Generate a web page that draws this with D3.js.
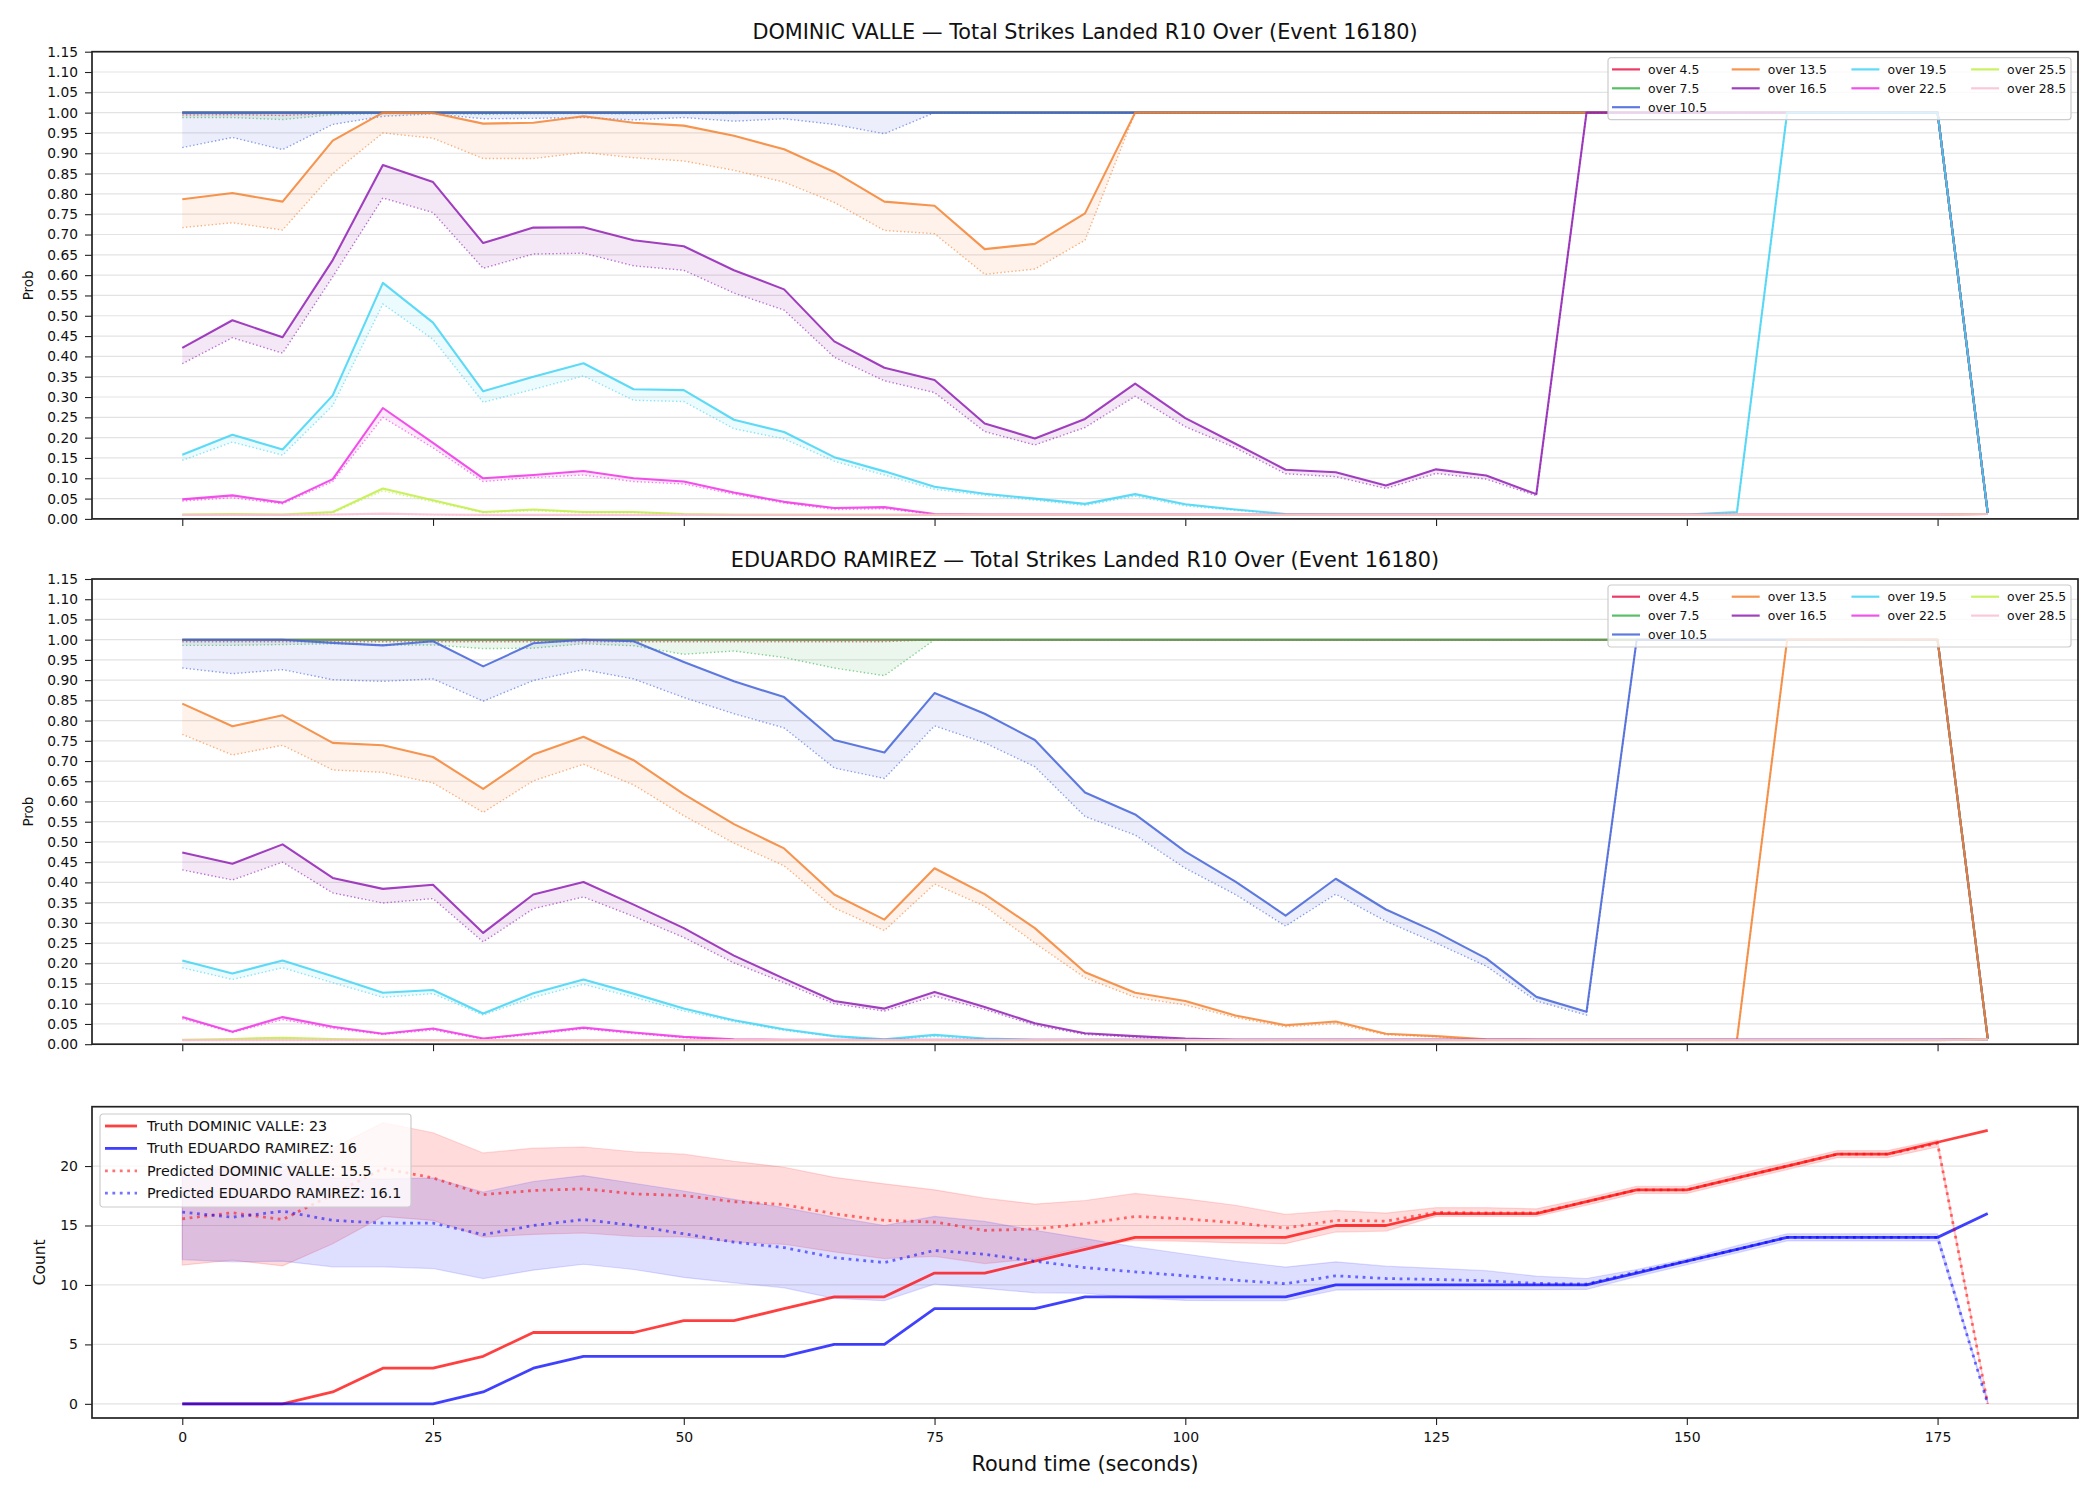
<!DOCTYPE html>
<html>
<head>
<meta charset="utf-8">
<script src="https://cdn.jsdelivr.net/npm/d3@7"></script>
<style>
  body { margin: 0; background: #fff; }
  svg { font-family: "DejaVu Sans", sans-serif; }
</style>
</head>
<body>
<div id="chart"></div>
<script>
// round time in seconds
const times = [0,5,10,15,20,25,30,35,40,45,50,55,60,65,70,75,80,85,90,95,100,105,110,115,120,125,130,135,140,145,150,155,160,165,170,175,180]

const overLabels = ['over 4.5','over 7.5','over 10.5','over 13.5','over 16.5','over 19.5','over 22.5','over 25.5','over 28.5']
const overColors = ['#e6194b','#3cb44b','#4363d8','#f58231','#911eb4','#42d4f4','#f032e6','#bfef45','#fabed4']

const probTicks = [0,0.05,0.1,0.15,0.2,0.25,0.3,0.35,0.4,0.45,0.5,0.55,0.6,0.65,0.7,0.75,0.8,0.85,0.9,0.95,1,1.05,1.1,1.15]
const countTicks = [0,5,10,15,20]
const timeTicks = [0,25,50,75,100,125,150,175]

// ---- DOMINIC VALLE (solid line + dotted line per threshold)
const valleO45 = [1,1,1,1,1,1,1,1,1,1, 1,1,1,1,1,1,1,1,1,1, 1,1,1,1,1,1,1,1,1,1, 1,1,1,1,1,1, 0.014]
const valleO45Dot = [0.994,0.995,0.993,0.998,0.999,0.999,0.999,0.999,0.999,0.999, 0.999,1,1,1,1,1,1,1,1,1, 1,1,1,1,1,1,1,1,1,1, 1,1,1,1,1,1, 0.014]
const valleO75 = [1,1,1,1,1,1,1,1,1,1, 1,1,1,1,1,1,1,1,1,1, 1,1,1,1,1,1,1,1,1,1, 1,1,1,1,1,1, 0.014]
const valleO75Dot = [0.988,0.988,0.983,0.995,0.998,0.998,0.996,0.997,0.998,0.997, 0.998,0.998,0.999,0.999,0.999,1,1,1,1,1, 1,1,1,1,1,1,1,1,1,1, 1,1,1,1,1,1, 0.014]
const valleO105 = [1,1,1,1,1,1,1,1,1,1, 1,1,1,1,1,1,1,1,1,1, 1,1,1,1,1,1,1,1,1,1, 1,1,1,1,1,1, 0.014]
const valleO105Dot = [0.914,0.939,0.909,0.971,0.991,0.997,0.985,0.986,0.988,0.982, 0.988,0.979,0.985,0.971,0.948,1,1,1,1,1, 1,1,1,1,1,1,1,1,1,1, 1,1,1,1,1,1, 0.014]
const valleO135 = [0.787,0.802,0.781,0.931,1.0,0.999,0.973,0.975,0.991,0.975, 0.968,0.943,0.910,0.854,0.781,0.771,0.664,0.677,0.752,1, 1,1,1,1,1,1,1,1,1,1, 1,1,1,1,1,1, 0.014]
const valleO135Dot = [0.717,0.729,0.711,0.850,0.950,0.937,0.887,0.887,0.902,0.889, 0.881,0.858,0.829,0.779,0.710,0.702,0.602,0.615,0.686,1, 1,1,1,1,1,1,1,1,1,1, 1,1,1,1,1,1, 0.014]
const valleO165 = [0.421,0.489,0.447,0.637,0.871,0.829,0.679,0.717,0.718,0.686, 0.671,0.612,0.565,0.437,0.372,0.342,0.235,0.198,0.246,0.333, 0.248,0.185,0.121,0.115,0.082,0.122,0.107,0.061,1,1, 1,1,1,1,1,1, 0.014]
const valleO165Dot = [0.382,0.446,0.408,0.596,0.790,0.754,0.617,0.652,0.654,0.623, 0.612,0.556,0.514,0.398,0.340,0.311,0.215,0.182,0.225,0.302, 0.227,0.175,0.111,0.104,0.075,0.112,0.098,0.057,1,1, 1,1,1,1,1,1, 0.014]
const valleO195 = [0.158,0.207,0.171,0.304,0.581,0.483,0.314,0.350,0.383,0.319, 0.317,0.244,0.214,0.152,0.117,0.079,0.062,0.050,0.037,0.061, 0.036,0.023,0.012,0.011,0.011,0.011,0.011,0.011,0.011,0.011, 0.011,0.017,1,1,1,1, 0.014]
const valleO195Dot = [0.144,0.189,0.157,0.279,0.529,0.442,0.287,0.319,0.352,0.292, 0.289,0.222,0.197,0.142,0.108,0.073,0.058,0.046,0.033,0.056, 0.032,0.021,0.011,0.010,0.010,0.010,0.010,0.010,0.010,0.010, 0.010,0.015,1,1,1,1, 0.014]
const valleO225 = [0.048,0.058,0.040,0.098,0.273,0.187,0.100,0.108,0.118,0.100, 0.092,0.065,0.042,0.027,0.029,0.012,0.011,0.011,0.011,0.011, 0.011,0.011,0.011,0.011,0.011,0.011,0.011,0.011,0.011,0.011, 0.011,0.011,0.011,0.011,0.011,0.011, 0.012]
const valleO225Dot = [0.044,0.052,0.037,0.092,0.250,0.175,0.092,0.102,0.108,0.092, 0.086,0.061,0.039,0.023,0.025,0.011,0.010,0.010,0.010,0.010, 0.010,0.010,0.010,0.010,0.010,0.010,0.010,0.010,0.010,0.010, 0.010,0.010,0.010,0.010,0.010,0.010, 0.012]
const valleO255 = [0.011,0.012,0.011,0.017,0.075,0.046,0.017,0.023,0.017,0.017, 0.012,0.010,0.010,0.010,0.010,0.010,0.010,0.010,0.010,0.010, 0.010,0.010,0.010,0.010,0.010,0.010,0.010,0.010,0.010,0.010, 0.010,0.010,0.010,0.010,0.010,0.010, 0.012]
const valleO255Dot = [0.010,0.011,0.010,0.015,0.069,0.042,0.015,0.020,0.015,0.015, 0.011,0.010,0.010,0.010,0.010,0.010,0.010,0.010,0.010,0.010, 0.010,0.010,0.010,0.010,0.010,0.010,0.010,0.010,0.010,0.010, 0.010,0.010,0.010,0.010,0.010,0.010, 0.012]
const valleO285 = [0.010,0.010,0.010,0.011,0.013,0.011,0.010,0.010,0.010,0.010, 0.010,0.010,0.010,0.010,0.010,0.010,0.010,0.010,0.010,0.010, 0.010,0.010,0.010,0.010,0.010,0.010,0.010,0.010,0.010,0.010, 0.010,0.010,0.010,0.010,0.010,0.010, 0.012]
const valleO285Dot = [0.009,0.009,0.009,0.010,0.012,0.010,0.009,0.009,0.009,0.009, 0.009,0.009,0.009,0.009,0.009,0.009,0.009,0.009,0.009,0.009, 0.009,0.009,0.009,0.009,0.009,0.009,0.009,0.009,0.009,0.009, 0.009,0.009,0.009,0.009,0.009,0.009, 0.011]

// ---- EDUARDO RAMIREZ
const ramirezO45 = [1,1,1,1,1,1,1,1,1,1, 1,1,1,1,1,1,1,1,1,1, 1,1,1,1,1,1,1,1,1,1, 1,1,1,1,1,1, 0.014]
const ramirezO45Dot = [0.995,0.995,0.995,0.995,0.995,0.995,0.995,0.995,0.995,0.995, 0.995,0.995,0.995,0.995,0.995,1,1,1,1,1, 1,1,1,1,1,1,1,1,1,1, 1,1,1,1,1,1, 0.014]
const ramirezO75 = [1,1,1,1,1,1,1,1,1,1, 1,1,1,1,1,1,1,1,1,1, 1,1,1,1,1,1,1,1,1,1, 1,1,1,1,1,1, 0.014]
const ramirezO75Dot = [0.986,0.986,0.988,0.990,0.987,0.987,0.978,0.979,0.990,0.985, 0.964,0.972,0.956,0.930,0.911,1,1,1,1,1, 1,1,1,1,1,1,1,1,1,1, 1,1,1,1,1,1, 0.014]
const ramirezO105 = [1,1,1,0.992,0.986,0.996,0.934,0.991,1,0.996, 0.945,0.897,0.858,0.752,0.721,0.868,0.817,0.752,0.622,0.568, 0.476,0.402,0.318,0.409,0.333,0.277,0.212,0.117,0.080,1, 1,1,1,1,1,1, 0.014]
const ramirezO105Dot = [0.930,0.916,0.926,0.901,0.897,0.903,0.848,0.899,0.926,0.903, 0.857,0.817,0.782,0.683,0.657,0.787,0.745,0.686,0.563,0.517, 0.435,0.370,0.292,0.371,0.304,0.250,0.193,0.107,0.072,1, 1,1,1,1,1,1, 0.014]
const ramirezO135 = [0.842,0.786,0.813,0.745,0.739,0.710,0.631,0.716,0.760,0.702, 0.618,0.544,0.484,0.370,0.308,0.435,0.371,0.287,0.178,0.127, 0.107,0.071,0.047,0.056,0.026,0.020,0.012,0.011,0.011,0.011, 0.011,0.011,1,1,1,1, 0.014]
const ramirezO135Dot = [0.766,0.715,0.739,0.678,0.672,0.646,0.573,0.651,0.692,0.641, 0.565,0.497,0.441,0.337,0.281,0.396,0.341,0.250,0.164,0.116, 0.097,0.066,0.043,0.051,0.023,0.018,0.011,0.010,0.010,0.010, 0.010,0.010,1,1,1,1, 0.014]
const ramirezO165 = [0.474,0.446,0.494,0.411,0.384,0.394,0.275,0.370,0.401,0.345, 0.287,0.219,0.162,0.107,0.088,0.129,0.092,0.052,0.027,0.020, 0.014,0.011,0.011,0.011,0.011,0.011,0.011,0.011,0.011,0.011, 0.011,0.011,0.011,0.011,0.011,0.011, 0.012]
const ramirezO165Dot = [0.431,0.406,0.450,0.374,0.349,0.360,0.253,0.335,0.364,0.316, 0.264,0.201,0.152,0.100,0.082,0.119,0.086,0.047,0.024,0.017, 0.012,0.010,0.010,0.010,0.010,0.010,0.010,0.010,0.010,0.010, 0.010,0.010,0.010,0.010,0.010,0.010, 0.012]
const ramirezO195 = [0.207,0.175,0.207,0.168,0.127,0.134,0.076,0.126,0.160,0.125, 0.088,0.059,0.037,0.020,0.012,0.023,0.014,0.011,0.011,0.011, 0.011,0.011,0.011,0.011,0.011,0.011,0.011,0.011,0.011,0.011, 0.011,0.011,0.011,0.011,0.011,0.011, 0.012]
const ramirezO195Dot = [0.189,0.160,0.189,0.152,0.116,0.125,0.072,0.116,0.148,0.116, 0.082,0.056,0.034,0.019,0.011,0.019,0.012,0.010,0.010,0.010, 0.010,0.010,0.010,0.010,0.010,0.010,0.010,0.010,0.010,0.010, 0.010,0.010,0.010,0.010,0.010,0.010, 0.012]
const ramirezO225 = [0.067,0.031,0.067,0.043,0.026,0.039,0.014,0.027,0.041,0.029, 0.018,0.012,0.011,0.011,0.011,0.011,0.011,0.011,0.011,0.011, 0.011,0.011,0.011,0.011,0.011,0.011,0.011,0.011,0.011,0.011, 0.011,0.011,0.011,0.011,0.011,0.011, 0.012]
const ramirezO225Dot = [0.063,0.029,0.061,0.039,0.024,0.035,0.012,0.024,0.038,0.026, 0.016,0.011,0.010,0.010,0.010,0.010,0.010,0.010,0.010,0.010, 0.010,0.010,0.010,0.010,0.010,0.010,0.010,0.010,0.010,0.010, 0.010,0.010,0.010,0.010,0.010,0.010, 0.012]
const ramirezO255 = [0.011,0.013,0.016,0.013,0.011,0.010,0.010,0.010,0.010,0.010, 0.010,0.010,0.010,0.010,0.010,0.010,0.010,0.010,0.010,0.010, 0.010,0.010,0.010,0.010,0.010,0.010,0.010,0.010,0.010,0.010, 0.010,0.010,0.010,0.010,0.010,0.010, 0.012]
const ramirezO255Dot = [0.010,0.012,0.015,0.012,0.010,0.010,0.010,0.010,0.010,0.010, 0.010,0.010,0.010,0.010,0.010,0.010,0.010,0.010,0.010,0.010, 0.010,0.010,0.010,0.010,0.010,0.010,0.010,0.010,0.010,0.010, 0.010,0.010,0.010,0.010,0.010,0.010, 0.012]
const ramirezO285 = [0.010,0.010,0.010,0.010,0.010,0.010,0.010,0.010,0.010,0.010, 0.010,0.010,0.010,0.010,0.010,0.010,0.010,0.010,0.010,0.010, 0.010,0.010,0.010,0.010,0.010,0.010,0.010,0.010,0.010,0.010, 0.010,0.010,0.010,0.010,0.010,0.010, 0.012]
const ramirezO285Dot = [0.009,0.009,0.009,0.009,0.009,0.009,0.009,0.009,0.009,0.009, 0.009,0.009,0.009,0.009,0.009,0.009,0.009,0.009,0.009,0.009, 0.009,0.009,0.009,0.009,0.009,0.009,0.009,0.009,0.009,0.009, 0.009,0.009,0.009,0.009,0.009,0.009, 0.011]

// ---- counts
const truthValle   = [0,0,0,1,3,3,4,6,6,6, 7,7,8,9,9,11,11,12,13,14, 14,14,14,15,15,16,16,16,17,18, 18,19,20,21,21,22, 23]
const truthRamirez = [0,0,0,0,0,0,1,3,4,4, 4,4,4,5,5,8,8,8,9,9, 9,9,9,10,10,10,10,10,10,11, 12,13,14,14,14,14, 16]
const predValle    = [15.56,16.07,15.5,17.6,19.8,19.0,17.6,17.94,18.08,17.66, 17.52,17.0,16.76,15.98,15.43,15.29,14.59,14.7,15.15,15.76, 15.56,15.23,14.78,15.43,15.37,16.1,16.05,16.05,17.0,18.0, 18.0,19.0,20.0,21.0,21.0,21.9, 0]
const predRamirez  = [16.12,15.7,16.2,15.43,15.2,15.2,14.23,15.0,15.5,15.0, 14.3,13.6,13.14,12.3,11.88,12.9,12.58,12.0,11.46,11.1, 10.77,10.4,10.1,10.77,10.54,10.46,10.35,10.13,10.07,11.1, 12.0,13.0,14.0,14.0,14.0,14.0, 0]
const valleLow     = [11.66,12.08,11.6,13.47,15.76,15.43,14.03,14.25,14.37,14.09, 14.03,13.61,13.42,12.78,12.22,12.41,11.8,12.2,13.2,13.75, 13.67,13.53,13.47,14.45,14.53,15.76,15.76,15.76,16.7,17.7, 17.7,18.7,19.7,20.7,20.7,21.6, 0]
const valleHigh    = [19.5,20.1,19.6,21.5,23.65,22.8,21.1,21.5,21.6,21.2, 21.0,20.4,19.9,19.05,18.5,18.0,17.3,16.8,17.1,17.7, 17.24,16.7,15.93,16.26,16.04,16.5,16.5,16.4,17.3,18.3, 18.3,19.3,20.3,21.3,21.3,22.2, 0.2]
const ramirezLow   = [12.13,11.94,12.0,11.52,11.52,11.38,10.54,11.24,11.74,11.3, 10.63,10.18,9.76,8.87,8.67,10.07,9.71,9.34,9.3,8.9, 8.7,8.67,8.67,9.57,9.6,9.6,9.6,9.6,9.62,10.7, 11.7,12.7,13.7,13.7,13.7,13.7, 0]
const ramirezHigh  = [19.4,19.9,20.2,19.0,18.9,19.0,17.8,18.7,19.2,18.55, 17.9,17.2,16.5,15.7,15.0,15.76,15.34,14.6,13.9,13.2, 12.6,12.0,11.5,11.94,11.58,11.4,11.2,10.74,10.54,11.3, 12.2,13.3,14.3,14.3,14.3,14.3, 0.2]

const valleSolid = [valleO45,valleO75,valleO105,valleO135,valleO165,valleO195,valleO225,valleO255,valleO285]
const valleDot = [valleO45Dot,valleO75Dot,valleO105Dot,valleO135Dot,valleO165Dot,valleO195Dot,valleO225Dot,valleO255Dot,valleO285Dot]
const ramirezSolid = [ramirezO45,ramirezO75,ramirezO105,ramirezO135,ramirezO165,ramirezO195,ramirezO225,ramirezO255,ramirezO285]
const ramirezDot = [ramirezO45Dot,ramirezO75Dot,ramirezO105Dot,ramirezO135Dot,ramirezO165Dot,ramirezO195Dot,ramirezO225Dot,ramirezO255Dot,ramirezO285Dot]

const width = 2100
const height = 1500
const left = 92, right = 2078

const svg = d3.select('#chart').append('svg')
  .attr('width', width)
  .attr('height', height)
svg.append('rect').attr('width', width).attr('height', height).attr('fill', '#fff')

const x = d3.scaleLinear().domain([-9, 189]).range([left, right])

function styleAxis(g, size) {
  g.select('.domain').remove()
  g.selectAll('.tick line').attr('stroke', '#222').attr('stroke-width', 1.1)
  g.selectAll('.tick text').attr('fill', '#111').attr('font-size', size)
    .attr('font-family', '"DejaVu Sans", sans-serif')
}

function gridLines(y, ticks) {
  svg.append('g').selectAll('line').data(ticks).enter().append('line')
    .attr('x1', left).attr('x2', right)
    .attr('y1', d => y(d)).attr('y2', d => y(d))
    .attr('stroke', '#e3e3e3').attr('stroke-width', 1.2)
}

function frame(top, bottom) {
  svg.append('rect')
    .attr('x', left).attr('y', top)
    .attr('width', right - left).attr('height', bottom - top)
    .attr('fill', 'none').attr('stroke', '#222').attr('stroke-width', 1.7)
}

function probPanel(top, bottom, title, solids, dots) {
  const y = d3.scaleLinear().domain([0, 1.15]).range([bottom, top])
  gridLines(y, probTicks)

  const g = svg.append('g')
  solids.forEach((solid, i) => {
    const dot = dots[i]
    const area = d3.area()
      .x((d, j) => x(times[j]))
      .y0((d, j) => y(solid[j]))
      .y1((d, j) => y(dot[j]))
    const line = d3.line().x((d, j) => x(times[j])).y(d => y(d))

    g.append('path').attr('d', area(times))
      .attr('fill', overColors[i]).attr('fill-opacity', 0.1)
    g.append('path').attr('d', line(solid))
      .attr('fill', 'none').attr('stroke', overColors[i])
      .attr('stroke-opacity', 0.85).attr('stroke-width', 2.1)
      .attr('stroke-linejoin', 'round')
    g.append('path').attr('d', line(dot))
      .attr('fill', 'none').attr('stroke', overColors[i])
      .attr('stroke-opacity', 0.6).attr('stroke-width', 1.4)
      .attr('stroke-dasharray', '1.4,2.3')
  })

  svg.append('g').attr('transform', `translate(${left},0)`)
    .call(d3.axisLeft(y).tickValues(probTicks).tickFormat(d3.format('.2f')).tickSize(7).tickPadding(7))
    .call(g => styleAxis(g, '13.8px'))
  svg.append('g').attr('transform', `translate(0,${bottom})`)
    .call(d3.axisBottom(x).tickValues(timeTicks).tickFormat('').tickSize(7))
    .call(g => styleAxis(g, '14px'))

  frame(top, bottom)

  svg.append('text')
    .attr('x', (left + right) / 2).attr('y', top - 12.5)
    .attr('text-anchor', 'middle').attr('font-size', '20.8px').attr('fill', '#111')
    .text(title)

  svg.append('text')
    .attr('transform', `translate(28,${(top + bottom) / 2}) rotate(-90)`)
    .attr('dy', '0.35em').attr('text-anchor', 'middle')
    .attr('font-size', '13.5px').attr('fill', '#111')
    .text('Prob')

  // legend, 4 columns filled column by column
  const lg = svg.append('g').attr('transform', `translate(1608,${top + 6})`)
  lg.append('rect').attr('width', 463).attr('height', 62).attr('rx', 3)
    .attr('fill', '#fff').attr('fill-opacity', 0.8)
    .attr('stroke', '#cccccc').attr('stroke-width', 1.2)
  const perCol = [3, 2, 2, 2]
  let k = 0
  perCol.forEach((n, c) => {
    for (let r = 0; r < n; r++) {
      const lx = 4 + c * 119.7
      const ly = 11.7 + r * 18.9
      lg.append('line').attr('x1', lx).attr('x2', lx + 28).attr('y1', ly).attr('y2', ly)
        .attr('stroke', overColors[k]).attr('stroke-opacity', 0.85).attr('stroke-width', 2.2)
      lg.append('text').attr('x', lx + 36).attr('y', ly).attr('dy', '0.35em')
        .attr('font-size', '12.4px').attr('fill', '#111').text(overLabels[k])
      k++
    }
  })
}

probPanel(51.7, 518.9, 'DOMINIC VALLE \u2014 Total Strikes Landed R10 Over (Event 16180)', valleSolid, valleDot)
probPanel(579, 1044.2, 'EDUARDO RAMIREZ \u2014 Total Strikes Landed R10 Over (Event 16180)', ramirezSolid, ramirezDot)

// ---- count panel
const cTop = 1106.7, cBottom = 1418
const yc = d3.scaleLinear().domain([-1.19, 24.99]).range([cBottom, cTop])
gridLines(yc, countTicks)

const band = (lo, hi) => d3.area().x((d, j) => x(times[j])).y0((d, j) => yc(lo[j])).y1((d, j) => yc(hi[j]))
const cline = d3.line().x((d, j) => x(times[j])).y(d => yc(d))

svg.append('path').attr('d', band(valleLow, valleHigh)(times))
  .attr('fill', 'red').attr('fill-opacity', 0.14)
  .attr('stroke', 'red').attr('stroke-opacity', 0.14).attr('stroke-width', 1.2)
svg.append('path').attr('d', band(ramirezLow, ramirezHigh)(times))
  .attr('fill', 'blue').attr('fill-opacity', 0.13)
  .attr('stroke', 'blue').attr('stroke-opacity', 0.13).attr('stroke-width', 1.2)

const countSeries = [
  { vals: truthValle, color: 'red', op: 0.75, dash: null, label: 'Truth DOMINIC VALLE: 23' },
  { vals: truthRamirez, color: 'blue', op: 0.75, dash: null, label: 'Truth EDUARDO RAMIREZ: 16' },
  { vals: predValle, color: 'red', op: 0.55, dash: '2.8,4.6', label: 'Predicted DOMINIC VALLE: 15.5' },
  { vals: predRamirez, color: 'blue', op: 0.55, dash: '2.8,4.6', label: 'Predicted EDUARDO RAMIREZ: 16.1' }
]
countSeries.forEach(s => {
  svg.append('path').attr('d', cline(s.vals))
    .attr('fill', 'none').attr('stroke', s.color).attr('stroke-opacity', s.op)
    .attr('stroke-width', 2.8).attr('stroke-linejoin', 'round')
    .attr('stroke-dasharray', s.dash)
})

svg.append('g').attr('transform', `translate(${left},0)`)
  .call(d3.axisLeft(yc).tickValues(countTicks).tickSize(7).tickPadding(7))
  .call(g => styleAxis(g, '14px'))
svg.append('g').attr('transform', `translate(0,${cBottom})`)
  .call(d3.axisBottom(x).tickValues(timeTicks).tickSize(7).tickPadding(7))
  .call(g => styleAxis(g, '14px'))
frame(cTop, cBottom)

svg.append('text')
  .attr('transform', `translate(40,${(cTop + cBottom) / 2}) rotate(-90)`)
  .attr('dy', '0.35em').attr('text-anchor', 'middle')
  .attr('font-size', '15.5px').attr('fill', '#111')
  .text('Count')

svg.append('text')
  .attr('x', (left + right) / 2).attr('y', 1471)
  .attr('text-anchor', 'middle').attr('font-size', '20.8px').attr('fill', '#111')
  .text('Round time (seconds)')

const cl = svg.append('g').attr('transform', 'translate(100,1114)')
cl.append('rect').attr('width', 311).attr('height', 93).attr('rx', 3)
  .attr('fill', '#fff').attr('fill-opacity', 0.8)
  .attr('stroke', '#cccccc').attr('stroke-width', 1.2)
countSeries.forEach((s, i) => {
  const ly = 12 + i * 22.4
  cl.append('line').attr('x1', 5).attr('x2', 37).attr('y1', ly).attr('y2', ly)
    .attr('stroke', s.color).attr('stroke-opacity', s.op).attr('stroke-width', 2.8)
    .attr('stroke-dasharray', s.dash)
  cl.append('text').attr('x', 47).attr('y', ly).attr('dy', '0.35em')
    .attr('font-size', '14.3px').attr('fill', '#111').text(s.label)
})
</script>
</body>
</html>
